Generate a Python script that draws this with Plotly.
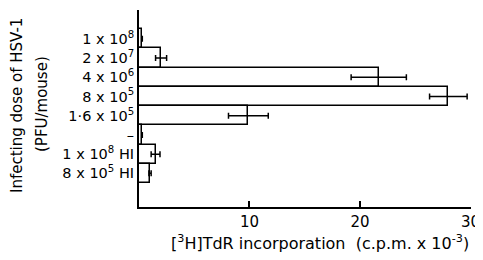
import plotly.graph_objects as go

categories = ["1 x 10<sup>8</sup>", "2 x 10<sup>7</sup>", "4 x 10<sup>6</sup>", "8 x 10<sup>5</sup>",
              "1·6 x 10<sup>5</sup>", "–", "1 x 10<sup>8</sup> HI", "8 x 10<sup>5</sup> HI"]
values = [0.3, 2.0, 21.7, 28.0, 9.9, 0.3, 1.5, 1.0]
errors = [None, 0.5, 2.5, 1.7, 1.8, None, 0.4, 0.1]
positions = list(range(len(categories)))

err_arr = [e if e is not None else 0 for e in errors]

fig = go.Figure()
fig.add_trace(go.Bar(
    y=positions, x=values, orientation="h", width=1.0,
    marker=dict(color="white", line=dict(color="black", width=1.5)),
    error_x=dict(type="data", array=err_arr, color="black", thickness=1.5, width=3,
                 visible=True),
    showlegend=False,
))

# page body has an 8px margin; figure sized to fit the 483x260 window
font_family = "DejaVu Sans, Arial, sans-serif"
fig.update_layout(
    width=475, height=252,
    margin=dict(l=131, r=12, t=2, b=53),
    paper_bgcolor="white", plot_bgcolor="white",
    font=dict(family=font_family, size=14, color="black"),
    bargap=0,
    xaxis=dict(range=[0, 30.05], tickvals=[10, 20, 30], ticktext=["10", "20", "30"],
               ticks="inside", ticklen=6, tickwidth=2, tickcolor="black",
               showline=True, linecolor="black", linewidth=2, showgrid=False,
               zeroline=False, tickfont=dict(size=15), automargin=False),
    yaxis=dict(range=[8.75, -1.5], tickvals=positions, ticktext=categories,
               ticks="", showline=True, linecolor="black", linewidth=2,
               showgrid=False, zeroline=False, tickfont=dict(size=14.5), automargin=False),
    annotations=[
        dict(text="Infecting dose of HSV-1", xref="paper", yref="paper",
             x=(17 - 139) / 332, y=(207 - 106) / 197, xanchor="center", yanchor="middle",
             textangle=-90, showarrow=False, font=dict(size=15)),
        dict(text="(PFU/mouse)", xref="paper", yref="paper",
             x=(42 - 139) / 332, y=(207 - 104) / 197, xanchor="center", yanchor="middle",
             textangle=-90, showarrow=False, font=dict(size=15)),
        dict(text="[<sup>3</sup>H]TdR incorporation  (c.p.m. x 10<sup>-3</sup>)",
             xref="paper", yref="paper", x=(320 - 139) / 332, y=(207 - 242) / 197,
             xanchor="center", yanchor="middle", showarrow=False, font=dict(size=16)),
    ],
)

fig.write_html("out.html")
